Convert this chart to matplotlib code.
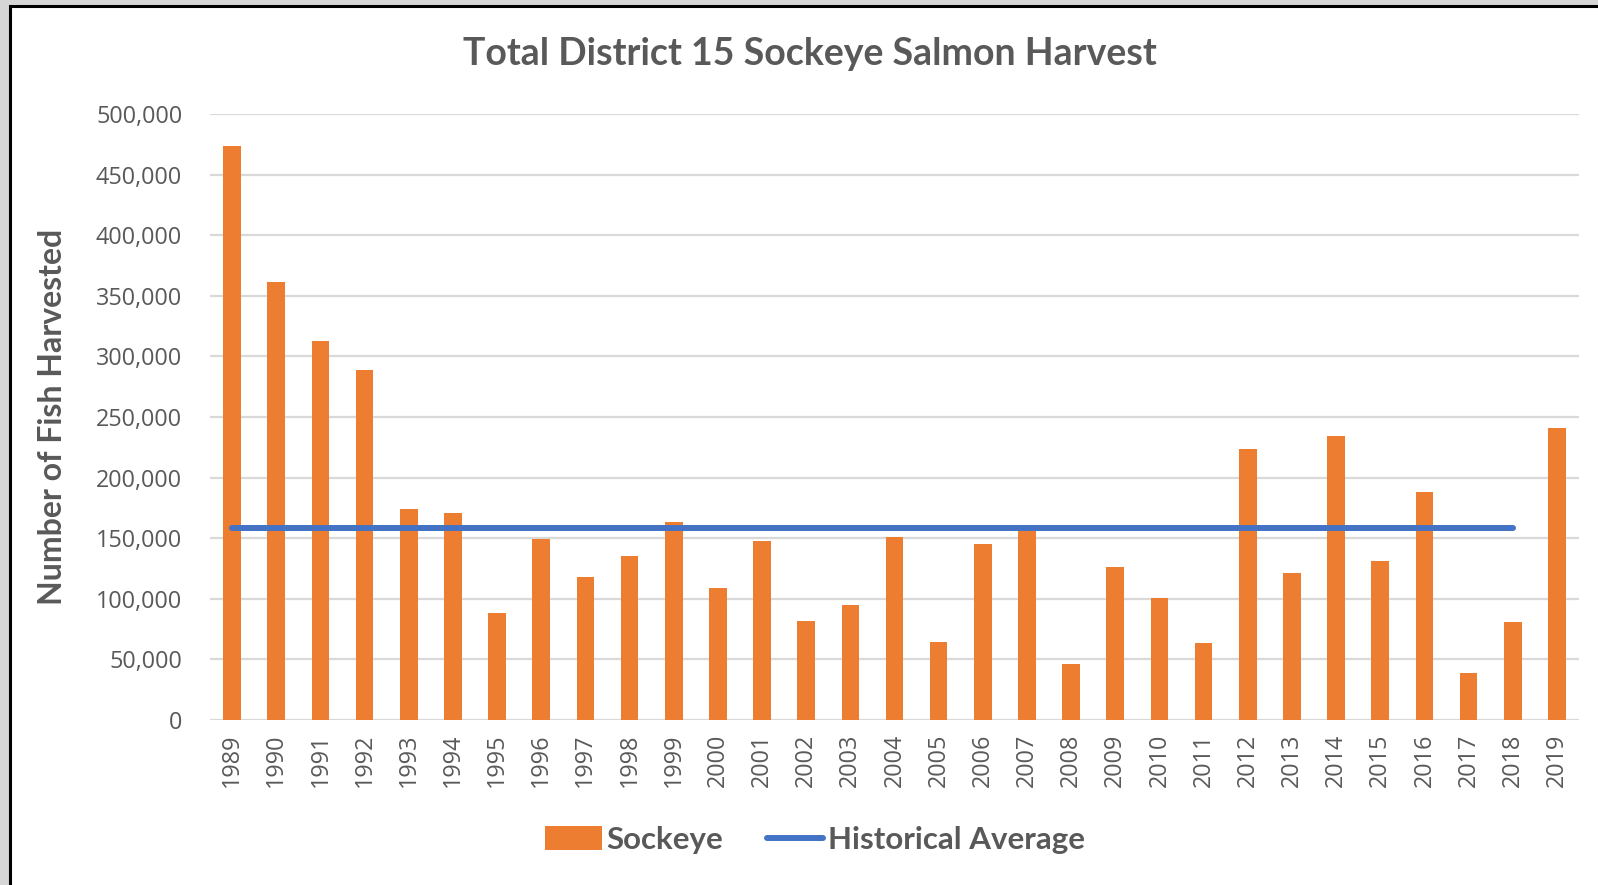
import matplotlib.pyplot as plt
from matplotlib.patches import Rectangle
from matplotlib.ticker import FuncFormatter

# 数据
years = [str(y) for y in range(1989, 2020)]
sockeye = [474000, 361000, 313000, 289000, 174500, 171000, 88000, 149000, 118000, 135000,
           163000, 109000, 147500, 81500, 94500, 151000, 64500, 145200, 156000, 46300,
           126300, 100500, 63500, 224000, 121500, 234300, 131300, 188000, 39000, 81000,
           241000]
avg_years = years[:-1]
avg_value = 158200

orange = '#ED7D31'
blue = '#4472C4'
grey_txt = '#595959'

fig = plt.figure(figsize=(15.98, 8.85), dpi=100)
fig.patch.set_facecolor('#d6d6d6')
# 白色图表区域 + 黑色边框
fig.patches.append(Rectangle((10 / 1598, -0.1), 1.2, 0.1 + 879 / 885, transform=fig.transFigure,
                             facecolor='white', edgecolor='black', linewidth=2.2, zorder=-5))

ax = fig.add_axes([210 / 1598, 1 - 720 / 885, 1369 / 1598, 606 / 885])
ax.set_zorder(2)
ax.set_facecolor('none')
x = list(range(len(years)))
bars = ax.bar(x, sockeye, width=0.4, color=orange, zorder=2)
line, = ax.plot(x[:len(avg_years)], [avg_value] * len(avg_years), color=blue, linewidth=4.3,
                solid_capstyle='round', zorder=3)

ax.set_xlim(-0.5, len(years) - 0.5)
ax.set_ylim(0, 500000)
ax.set_yticks(range(0, 500001, 50000))
ax.yaxis.set_major_formatter(FuncFormatter(lambda v, p: f'{int(v):,}'))
ax.set_xticks(x)
ax.set_xticklabels(years, rotation=90)
ax.grid(axis='y', color='#d9d9d9', linewidth=1.6, zorder=0)
ax.set_axisbelow(True)
for s in ax.spines.values():
    s.set_visible(False)
ax.tick_params(axis='both', length=0, labelsize=16.8, labelcolor=grey_txt)
ax.tick_params(axis='y', pad=20)
ax.tick_params(axis='x', pad=10)
for lab in ax.get_xticklabels() + ax.get_yticklabels():
    lab.set_family('Open Sans')

fig.text(810 / 1598, 1 - 54 / 885, 'Total District 15 Sockeye Salmon Harvest', ha='center', va='center',
         fontsize=27, fontweight='bold', family='Lato', color=grey_txt)
fig.text(53 / 1598, 1 - 417 / 885, 'Number of Fish Harvested', ha='center', va='center', rotation=90,
         fontsize=23, fontweight='bold', family='Lato', color=grey_txt)

leg = fig.legend([bars, line], ['Sockeye', 'Historical Average'], loc='center',
                 bbox_to_anchor=(815 / 1598, 1 - 840 / 885), ncol=2, frameon=False,
                 prop={'family': 'Lato', 'weight': 'bold', 'size': 22.5}, handlelength=1.8,
                 handleheight=0.8, handletextpad=0.15, columnspacing=1.4)
for t in leg.get_texts():
    t.set_color(grey_txt)

plt.savefig('out.png', dpi=100, facecolor=fig.get_facecolor())
